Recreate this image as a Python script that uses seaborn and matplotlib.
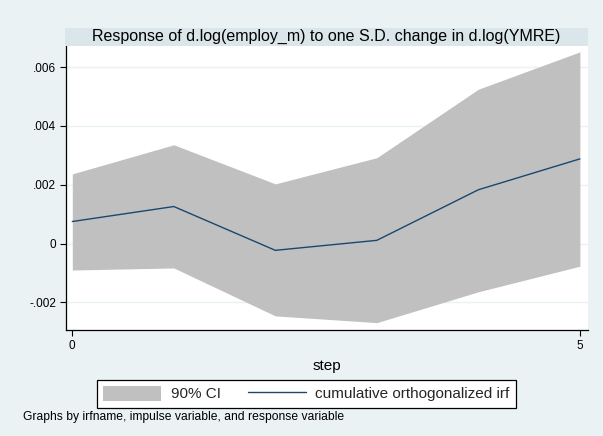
import matplotlib
matplotlib.use("Agg")
import matplotlib.pyplot as plt
from matplotlib.patches import Rectangle, Patch
from matplotlib.lines import Line2D
import seaborn as sns
import pandas as pd

# Cumulative orthogonalized IRF with 90% confidence band
step = [0, 1, 2, 3, 4, 5]
irf = [0.00075, 0.00126, -0.00023, 0.00011, 0.00183, 0.00288]
ci_lower = [-0.00090, -0.00083, -0.00246, -0.00269, -0.00164, -0.00077]
ci_upper = [0.00237, 0.00336, 0.00203, 0.00292, 0.00525, 0.00652]

y_ticks = [-0.002, 0, 0.002, 0.004, 0.006]
y_tick_labels = ["-.002", "0", ".002", ".004", ".006"]
x_ticks = [0, 5]
x_tick_labels = ["0", "5"]

title = "Response of d.log(employ_m) to one S.D. change in d.log(YMRE)"
note = "Graphs by irfname, impulse variable, and response variable"

df = pd.DataFrame({"step": step, "irf": irf, "lo": ci_lower, "hi": ci_upper})

sns.set_theme(style="white")
plt.rcParams["font.family"] = ["Liberation Sans", "DejaVu Sans"]

bg = "#eaf2f3"
band = "#dbe6eb"
ci_color = "#c0c0c0"
navy = "#1a476f"

W, H = 603, 436
fig = plt.figure(figsize=(W / 100, H / 100), dpi=100, facecolor=bg)

def fx(px):
    return px / W

def fy(py):
    return 1 - py / H

ax_l, ax_r, ax_t, ax_b = 65.7, 588, 46, 330
ax = fig.add_axes([fx(ax_l), fy(ax_b), fx(ax_r - ax_l), fy(ax_t) - fy(ax_b)])
ax.set_facecolor("white")

ax.set_xlim(-0.065, 5.08)
ax.set_ylim(-0.00294, 0.00672)

for yv in y_ticks:
    ax.axhline(yv, color=bg, lw=1.0, zorder=0.5)

ax.fill_between(df["step"], df["lo"], df["hi"], color=ci_color, lw=0, zorder=1)
sns.lineplot(data=df, x="step", y="irf", ax=ax, color=navy, lw=1.0, zorder=2, legend=False)

ax.set_xticks(x_ticks)
ax.set_xticklabels(x_tick_labels)
ax.set_yticks(y_ticks)
ax.set_yticklabels(y_tick_labels)
ax.tick_params(axis="both", direction="out", length=4, width=0.8, color="black",
               labelsize=8.5, labelcolor="black", pad=3, left=True, bottom=True)

for s in ["top", "right"]:
    ax.spines[s].set_visible(False)
for s in ["left", "bottom"]:
    ax.spines[s].set_color("black")
    ax.spines[s].set_linewidth(0.9)

ax.set_xlabel("step", fontsize=11, color="black", labelpad=5)
ax.set_ylabel("")

# title band above the plot region
fig.patches.append(Rectangle((fx(64.6), fy(46)), fx(588 - 64.6), fy(27.7) - fy(46),
                             transform=fig.transFigure, facecolor=band, edgecolor="none"))
fig.text(fx(326), fy(36.5), title, ha="center", va="center", fontsize=11.5, color="black")

handles = [Patch(facecolor=ci_color, edgecolor="none"),
           Line2D([0], [0], color=navy, lw=1.0)]
leg = fig.legend(handles, ["90% CI", "cumulative orthogonalized irf"],
                 loc="center", ncol=2, fontsize=11,
                 bbox_to_anchor=(fx(306.5), fy(393.7)),
                 frameon=True, fancybox=False, edgecolor="black", facecolor="white",
                 framealpha=1, handlelength=3.8, handleheight=1.1, handletextpad=0.6,
                 columnspacing=1.8, borderpad=0.4)
leg.get_frame().set_linewidth(0.9)

fig.text(fx(23), fy(416.5), note, ha="left", va="center", fontsize=8.7, color="black")

fig.savefig("out.png", dpi=100, facecolor=bg)
